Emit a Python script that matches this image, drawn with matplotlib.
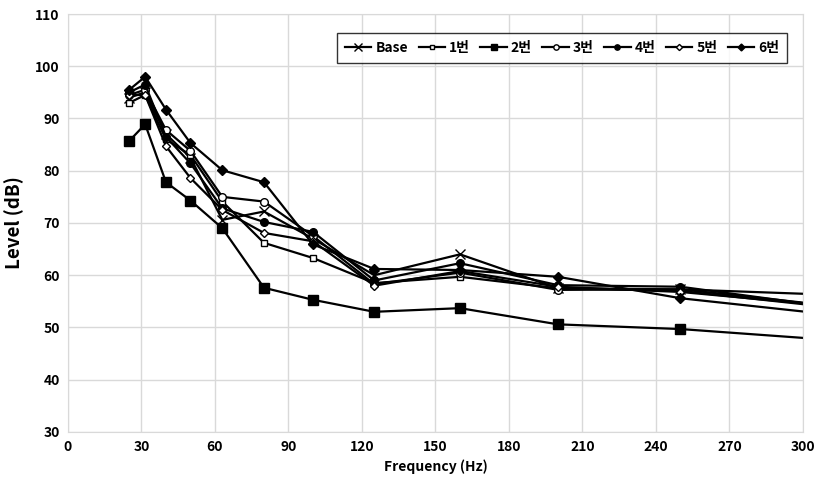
import matplotlib.pyplot as plt

plt.rcParams['font.family'] = ['Noto Sans CJK KR', 'DejaVu Sans']

# 주파수 (Hz)
freq = [25, 31.5, 40, 50, 63, 80, 100, 125, 160, 200, 250, 315]

# 각 조건별 레벨 (dB)
base = [94.0, 95.0, 87.0, 82.5, 70.6, 72.2, 67.0, 60.0, 64.0, 57.5, 57.3, 56.2]
case1 = [93.0, 94.5, 86.0, 83.0, 74.1, 66.2, 63.3, 58.5, 59.7, 57.5, 57.0, 53.7]
case2 = [85.7, 88.9, 77.8, 74.3, 69.0, 57.6, 55.3, 53.0, 53.7, 50.6, 49.7, 47.5]
case3 = [94.5, 95.5, 87.8, 83.8, 75.0, 74.1, 67.5, 58.3, 60.5, 57.2, 57.3, 54.0]
case4 = [95.0, 96.5, 86.5, 81.4, 72.8, 70.2, 68.3, 59.0, 62.3, 58.1, 57.8, 53.7]
case5 = [94.5, 94.5, 84.7, 78.6, 72.5, 68.1, 66.5, 58.0, 60.8, 57.8, 56.8, 54.0]
case6 = [95.5, 98.0, 91.7, 85.3, 80.1, 77.8, 65.9, 61.2, 61.0, 59.7, 55.6, 52.3]

labels = ['Base', '1번', '2번', '3번', '4번', '5번', '6번']
series = [base, case1, case2, case3, case4, case5, case6]

# 마커 스타일 (marker, size, 채움여부)
styles = [('x', 7.5, True), ('s', 5, False), ('s', 7, True), ('o', 5.5, False),
          ('o', 5.5, True), ('D', 4.5, False), ('D', 5, True)]

fig = plt.figure(figsize=(8.24, 4.88), dpi=100)
ax = fig.add_axes([0.0825, 0.1148, 0.892, 0.8565])

for y, lab, (m, ms, filled) in zip(series, labels, styles):
    ax.plot(freq, y, color='black', lw=1.6, marker=m, markersize=ms,
            markerfacecolor='black' if filled else 'white',
            markeredgecolor='black', markeredgewidth=1.0, label=lab)

ax.set_xlim(0, 300)
ax.set_ylim(30, 110)
ax.set_xticks(range(0, 301, 30))
ax.set_yticks(range(30, 111, 10))
ax.grid(color='#d9d9d9', lw=1)
ax.set_axisbelow(True)
for s in ax.spines.values():
    s.set_color('#d9d9d9')
ax.tick_params(length=0, labelsize=10, pad=6)
for t in ax.get_xticklabels() + ax.get_yticklabels():
    t.set_fontweight('bold')

ax.set_xlabel('Frequency (Hz)', fontsize=10, fontweight='bold', labelpad=4)
ax.set_ylabel('Level (dB)', fontsize=13.5, fontweight='bold', labelpad=8)

leg = ax.legend(loc='upper right', ncol=7, frameon=True, fancybox=False,
                edgecolor='black', handlelength=1.9, handletextpad=0.3,
                columnspacing=0.75, borderpad=0.55, markerscale=0.7,
                bbox_to_anchor=(0.988, 0.97),
                prop={'weight': 'bold', 'size': 10})
leg.get_frame().set_linewidth(1.0)

fig.savefig('out.png', dpi=100)
